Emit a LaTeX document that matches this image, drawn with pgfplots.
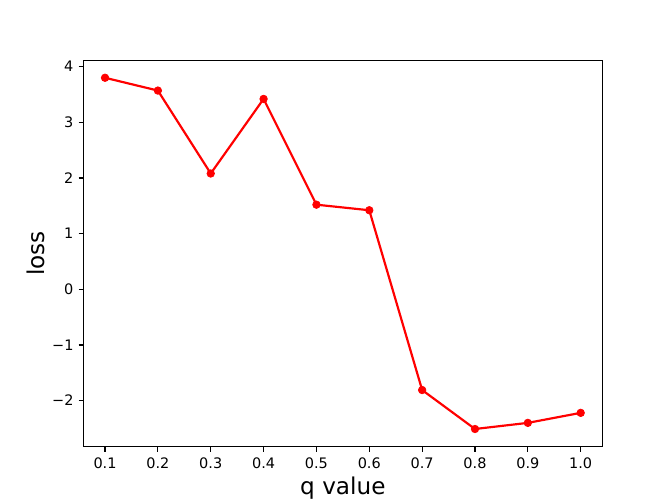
\documentclass[border=0pt]{standalone}
\usepackage{pgfplots}
\pgfplotsset{compat=1.18}
\usepackage{fontspec}
\setmainfont{DejaVu Sans}
\begin{document}
\begin{tikzpicture}
\useasboundingbox (-57.6bp,-38.016bp) rectangle (403.2bp,307.584bp);
\begin{axis}[
    scale only axis,
    width=357.12bp, height=266.112bp,
    xmin=0.0595, xmax=1.0405,
    ymin=-2.8255, ymax=4.1155,
    xtick={0.1,0.2,0.3,0.4,0.5,0.6,0.7,0.8,0.9,1.0},
    xticklabels={0.1,0.2,0.3,0.4,0.5,0.6,0.7,0.8,0.9,1.0},
    ytick={-2,-1,0,1,2,3,4},
    yticklabels={−2,−1,0,1,2,3,4},
    tick align=outside,
    tick pos=left,
    major tick length=3.5pt,
    every tick/.style={black, line width=0.8pt},
    axis line style={line width=0.8pt},
    ticklabel style={font=\fontsize{10}{12}\selectfont},
    xticklabel style={yshift=-0.5pt},
    label style={font=\fontsize{16}{19}\selectfont},
    xlabel={q value},
    ylabel={loss},
    xlabel style={yshift=1pt},
    ylabel style={yshift=-2pt},
]
\addplot[color=red, line width=1.5pt, mark=*, mark size=2.6pt, mark options={fill=red, draw=red, line width=0.5pt}]
coordinates {
(0.1,3.80) (0.2,3.57) (0.3,2.08) (0.4,3.42) (0.5,1.52)
(0.6,1.42) (0.7,-1.81) (0.8,-2.51) (0.9,-2.40) (1.0,-2.22)
};
\end{axis}
\end{tikzpicture}
\end{document}
